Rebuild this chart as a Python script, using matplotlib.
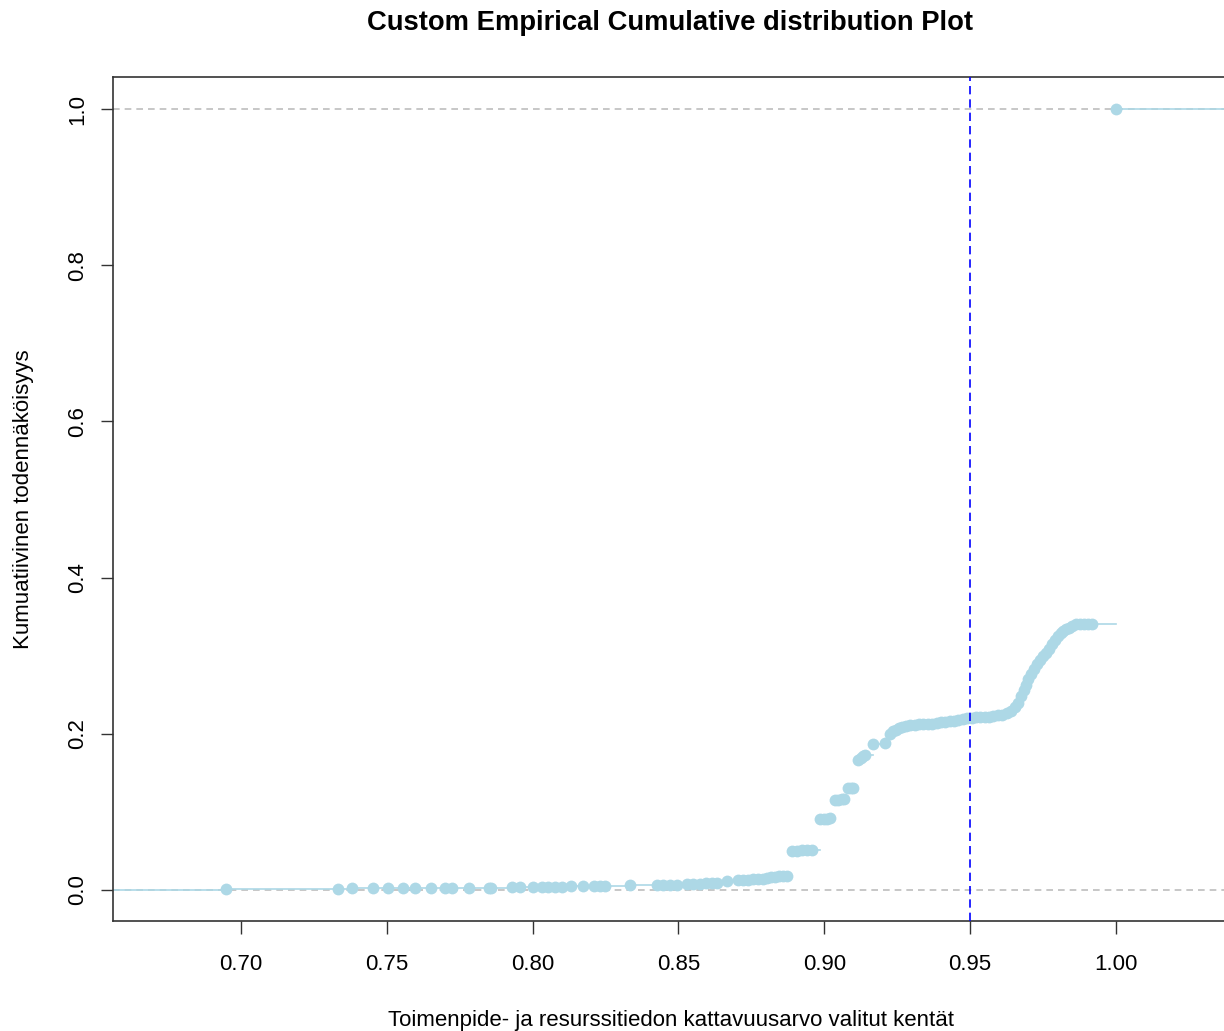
import matplotlib
matplotlib.use('Agg')
import matplotlib.pyplot as plt

plt.rcParams.update({
    "font.family": ["Liberation Sans", "DejaVu Sans"],
})

# ECDF step points (x value, cumulative probability)
ecdf_x = [
    0.6949, 0.7333, 0.7381, 0.7453, 0.7504, 0.7556, 0.7597, 0.7652, 0.7700, 0.7724,
    0.7782, 0.7850, 0.7857, 0.7929, 0.7957, 0.8001, 0.8032, 0.8053, 0.8077, 0.8101,
    0.8132, 0.8173, 0.8211, 0.8231, 0.8248, 0.8334,
    0.8427, 0.8447, 0.8471, 0.8495, 0.8529, 0.8550, 0.8574, 0.8595, 0.8615, 0.8632,
    0.8667, 0.8704, 0.8722, 0.8739, 0.8756, 0.8773, 0.8790, 0.8804, 0.8818, 0.8831,
    0.8845, 0.8859, 0.8872,
    0.8890, 0.8907, 0.8924, 0.8941, 0.8958,
    0.8986, 0.9000, 0.9010, 0.9020,
    0.9035, 0.9047, 0.9060, 0.9068,
    0.9082, 0.9092, 0.9100,
    0.9116, 0.9125, 0.9133, 0.9140,
    0.9168, 0.9208,
    0.9226, 0.9235, 0.9245, 0.9255, 0.9265, 0.9280, 0.9295, 0.9310, 0.9325, 0.9340,
    0.9355, 0.9370, 0.9385, 0.9400, 0.9415, 0.9430, 0.9445, 0.9460, 0.9475, 0.9490,
    0.9505, 0.9520, 0.9535, 0.9550, 0.9565, 0.9580, 0.9595,
    0.9610, 0.9625, 0.9640, 0.9655, 0.9665, 0.9675, 0.9685, 0.9693, 0.9700, 0.9710,
    0.9720, 0.9730, 0.9740, 0.9750, 0.9760, 0.9770, 0.9780, 0.9790, 0.9800, 0.9810,
    0.9820, 0.9830, 0.9840, 0.9850, 0.9862, 0.9875, 0.9890, 0.9905, 0.9918,
    1.0000,
]
ecdf_y = [
    0.001, 0.001, 0.002, 0.002, 0.002, 0.002, 0.003, 0.003, 0.003, 0.003,
    0.003, 0.003, 0.003, 0.004, 0.004, 0.004, 0.004, 0.004, 0.004, 0.004,
    0.005, 0.005, 0.005, 0.005, 0.005, 0.007,
    0.007, 0.007, 0.007, 0.007, 0.008, 0.008, 0.008, 0.009, 0.009, 0.009,
    0.011, 0.013, 0.013, 0.013, 0.014, 0.014, 0.014, 0.015, 0.017, 0.017,
    0.018, 0.018, 0.018,
    0.050, 0.050, 0.051, 0.051, 0.051,
    0.091, 0.091, 0.091, 0.092,
    0.115, 0.115, 0.116, 0.117,
    0.130, 0.131, 0.131,
    0.166, 0.169, 0.172, 0.173,
    0.187, 0.188,
    0.200, 0.203, 0.205, 0.207, 0.209, 0.210, 0.211, 0.211, 0.212, 0.212,
    0.213, 0.213, 0.214, 0.215, 0.215, 0.216, 0.217, 0.218, 0.219, 0.220,
    0.220, 0.221, 0.221, 0.222, 0.222, 0.223, 0.224,
    0.224, 0.226, 0.229, 0.234, 0.240, 0.248, 0.256, 0.263, 0.270, 0.277,
    0.283, 0.289, 0.294, 0.299, 0.304, 0.309, 0.315, 0.320, 0.325, 0.329,
    0.332, 0.334, 0.336, 0.338, 0.340, 0.341, 0.341, 0.341, 0.341,
    1.000,
]
threshold = 0.95
x_ticks = [0.70, 0.75, 0.80, 0.85, 0.90, 0.95, 1.00]
y_ticks = [0.0, 0.2, 0.4, 0.6, 0.8, 1.0]

W, H = 1224, 1031
fig = plt.figure(figsize=(W / 100, H / 100), dpi=100)
ax = fig.add_axes([113 / W, 1 - 921 / H, (1230 - 113) / W, (921 - 77) / H])

x_lo, x_hi = 0.6561, 1.0391
ax.set_xlim(x_lo, x_hi)
ax.set_ylim(-0.0397, 1.041)

col = '#add8e6'
# reference lines
ax.axhline(0, color='#bebebe', ls=(0, (4, 3)), lw=1.2, zorder=1)
ax.axhline(1, color='#bebebe', ls=(0, (4, 3)), lw=1.2, zorder=1)

# step segments (no verticals)
seg_x = [x_lo] + ecdf_x + [x_hi]
seg_y = [0.0] + ecdf_y
for i in range(len(seg_y)):
    ax.plot([seg_x[i], seg_x[i + 1]], [seg_y[i], seg_y[i]], color=col, lw=1.2, zorder=2)
ax.plot(ecdf_x, ecdf_y, 'o', color=col, ms=8.5, mec='none', zorder=3)

ax.axvline(threshold, color='blue', ls=(0, (5, 3)), lw=1.2, zorder=4)

ax.set_xticks(x_ticks)
ax.set_xticklabels([f'{v:.2f}' for v in x_ticks])
ax.set_yticks(y_ticks)
ax.set_yticklabels([f'{v:.1f}' for v in y_ticks], rotation=90, va='center')
ax.tick_params(length=9, width=1, color='#333333', labelsize=16, pad=15)
ax.tick_params(axis='y', pad=9)
for s in ('left', 'bottom', 'top', 'right'):
    ax.spines[s].set_color('#333333')
    ax.spines[s].set_linewidth(1.2)

ax.set_xlabel('Toimenpide- ja resurssitiedon kattavuusarvo valitut kentät',
              fontsize=16, labelpad=25)
ax.set_ylabel('Kumuatiivinen todennäköisyys', fontsize=16, labelpad=24)
fig.text(670 / W, 1 - 23 / H, 'Custom Empirical Cumulative distribution Plot',
         ha='center', va='center', fontsize=19.7, fontweight='bold')

fig.savefig('out.png', dpi=100)
